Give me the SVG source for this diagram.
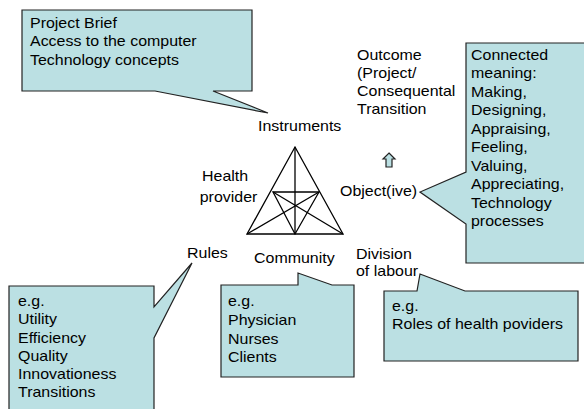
<svg xmlns="http://www.w3.org/2000/svg" width="584" height="409" viewBox="0 0 584 409">
<style>
.call{fill:#bbe0e3;stroke:#222;stroke-width:1.2;stroke-linejoin:miter}
.t{font-family:"Liberation Sans",Arial,sans-serif;font-size:14px;fill:#000}
.tri{fill:none;stroke:#000;stroke-width:1.3}
</style>
<rect width="584" height="409" fill="#fff"/>
<g id="instruments-callout">
<polygon class="call" points="22,10 252,10 252,91 213,91 268,113 155,91 22,91"/>
<text class="t" transform="translate(30 28) scale(1.14 1)"><tspan x="0" y="0">Project Brief</tspan><tspan x="0" y="18.5">Access to the computer</tspan><tspan x="0" y="37">Technology concepts</tspan></text>
</g>
<g id="object-callout">
<polygon class="call" points="466,43 590,43 590,263 466,263 466,224 420,192 466,172"/>
<text class="t" transform="translate(471 60) scale(1.14 1)"><tspan x="0" y="0">Connected</tspan><tspan x="0" y="18.5">meaning:</tspan><tspan x="0" y="37">Making,</tspan><tspan x="0" y="55.5">Designing,</tspan><tspan x="0" y="74">Appraising,</tspan><tspan x="0" y="92.5">Feeling,</tspan><tspan x="0" y="111">Valuing,</tspan><tspan x="0" y="129.5">Appreciating,</tspan><tspan x="0" y="148">Technology</tspan><tspan x="0" y="166.5">processes</tspan></text>
</g>
<g id="rules-callout">
<polygon class="call" points="9,286 154,286 154,307 192,263 154,338 154,415 9,415"/>
<text class="t" transform="translate(18 306) scale(1.14 1)"><tspan x="0" y="0">e.g.</tspan><tspan x="0" y="18.3">Utility</tspan><tspan x="0" y="36.6">Efficiency</tspan><tspan x="0" y="54.9">Quality</tspan><tspan x="0" y="73.2">Innovationess</tspan><tspan x="0" y="91.5">Transitions</tspan></text>
</g>
<g id="community-callout">
<polygon class="call" points="221,285 298,285 298,273 332,285 354,285 354,377 221,377"/>
<text class="t" transform="translate(228 306) scale(1.14 1)"><tspan x="0" y="0">e.g.</tspan><tspan x="0" y="18.8">Physician</tspan><tspan x="0" y="37.6">Nurses</tspan><tspan x="0" y="56.4">Clients</tspan></text>
</g>
<g id="division-callout">
<polygon class="call" points="384,291 417,291 420,274 465,291 578,291 578,361 384,361"/>
<text class="t" transform="translate(392 311) scale(1.14 1)"><tspan x="0" y="0">e.g.</tspan><tspan x="0" y="18.5">Roles of health poviders</tspan></text>
</g>
<g id="triangle">
<polygon class="tri" points="295,147 343,234 247,234"/>
<polygon class="tri" points="273,192 319,192 295,234"/>
<line class="tri" x1="295" y1="147" x2="295" y2="234"/>
<line class="tri" x1="247" y1="234" x2="319" y2="192"/>
<line class="tri" x1="343" y1="234" x2="273" y2="192"/>
</g>
<g id="outcome-arrow">
<polygon class="call" points="389,153 395,159 392,159 392,167 386,167 386,159 383,159"/>
</g>
<g id="labels">
<text class="t" transform="translate(357 60) scale(1.14 1)"><tspan x="0" y="0">Outcome</tspan><tspan x="0" y="18">(Project/</tspan><tspan x="0" y="36">Consequental</tspan><tspan x="0" y="54">Transition</tspan></text>
<text class="t" transform="translate(258 131) scale(1.14 1)">Instruments</text>
<text class="t" transform="translate(202 181) scale(1.14 1)"><tspan x="0" y="0">Health</tspan><tspan x="-2" y="21">provider</tspan></text>
<text class="t" transform="translate(340 196) scale(1.14 1)">Object(ive)</text>
<text class="t" transform="translate(187 258) scale(1.14 1)">Rules</text>
<text class="t" transform="translate(254 263) scale(1.14 1)">Community</text>
<text class="t" transform="translate(356 259) scale(1.14 1)"><tspan x="0" y="0">Division</tspan><tspan x="0" y="17.5">of labour</tspan></text>
</g>
</svg>
